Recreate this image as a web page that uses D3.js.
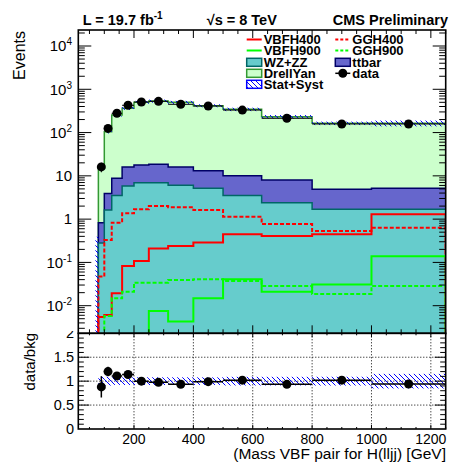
<!DOCTYPE html>
<html>
<head>
<meta charset="utf-8">
<script src="https://cdnjs.cloudflare.com/ajax/libs/d3/7.8.5/d3.min.js"></script>
<style>
body { margin: 0; background: #fff; }
text { font-family: "Liberation Sans", Arial, Helvetica, sans-serif; fill: #000; }
</style>
</head>
<body>
<svg id="chart" width="450" height="462"></svg>
<script>
// bin edges (GeV), 13 bins
var binEdges = [70, 80, 100, 125, 160, 200, 250, 315, 400, 500, 630, 800, 1000, 1250];

// backgrounds (stacked: WZ+ZZ, ttbar, DrellYan)
var wzzz     = [0, 0.28, 1.63, 3.5, 5.8, 6.9, 6.9, 6.1, 5.15, 3.5, 2.4, 1.69, 1.69];
var ttbar    = [0, 0.54, 2.27, 5.3, 10.2, 10.8, 11.6, 9.9, 8.05, 6.6, 5.6, 3.21, 3.46];
var drellyan = [0, 14.1, 101, 246, 347, 482, 516, 484, 404, 334, 225, 159, 159];
var bkgErr   = [0.39, 1.5, 9.5, 20, 29, 40, 43, 40, 33, 31, 21, 15, 25];

// signals
var vbfh400 = [0, 0.0055, 0.0061, 0.0193, 0.083, 0.108, 0.21, 0.24, 0.29, 0.45, 0.41, 0.45, 1.29];
var ggh400  = [0, 0.047, 0.33, 0.83, 1.36, 1.69, 2.0, 1.88, 1.63, 1.14, 0.77, 0.53, 0.63];
var vbfh900 = [0, 0, 0, 0, 0, 0, 0.0075, 0.0043, 0.0148, 0.041, 0.021, 0.031, 0.138];
var ggh900  = [0, 0, 0.0058, 0.0148, 0.021, 0.034, 0.034, 0.039, 0.041, 0.037, 0.0285, 0.0186, 0.0285];

// data
var dataVals = [0, 16.1, 125, 279, 427, 508, 527, 450, 411, 331, 214, 158, 158];
var dataErr  = [0, 4, 11, 17, 21, 23, 23, 21, 20, 18, 15, 13, 13];
var ratioVals = [null, 0.88, 1.2, 1.11, 1.14, 1.0, 0.975, 0.934, 0.99, 1.02, 0.934, 1.02, 0.94];
var ratioErr  = [null, 0.22, 0.1, 0.07, 0.06, 0.045, 0.045, 0.045, 0.05, 0.055, 0.065, 0.08, 0.08];

// tick labels
var xTickLabels = [200, 400, 600, 800, 1000, 1200];
var yExponents = [-2, -1, 0, 1, 2, 3, 4];
var ratioTickLabels = [0, 0.5, 1, 1.5, 2];

var svg = d3.select("#chart");
var fr = { left: 78.3, right: 445.7, top: 30, mid: 333.3, bottom: 429 };

var x = d3.scaleLinear().domain([12.4, 1250]).range([fr.left, fr.right]);
var y = d3.scaleLog().domain([Math.pow(10, -2.638), Math.pow(10, 4.37)]).range([fr.mid, fr.top]);
var yr = d3.scaleLinear().domain([0, 2]).range([fr.bottom, fr.mid]);

var defs = svg.append("defs");
defs.append("clipPath").attr("id", "clipTop").append("rect")
    .attr("x", fr.left).attr("y", fr.top).attr("width", fr.right - fr.left).attr("height", fr.mid - fr.top);
defs.append("clipPath").attr("id", "clipBot").append("rect")
    .attr("x", fr.left).attr("y", fr.mid).attr("width", fr.right - fr.left).attr("height", fr.bottom - fr.mid);
defs.append("clipPath").attr("id", "clipLbl").append("rect")
    .attr("x", 0).attr("y", 331).attr("width", 78).attr("height", 131);
var pat = defs.append("pattern").attr("id", "hatch").attr("patternUnits", "userSpaceOnUse")
    .attr("width", 5).attr("height", 5);
pat.append("path").attr("d", "M0,0L5,5M-1,4L1,6M4,-1L6,1")
    .attr("stroke", "#0000ff").attr("stroke-width", 1);

var nb = binEdges.length - 1;
var floorVal = 1e-5;

function sumArr() {
    var args = arguments, out = [];
    for (var i = 0; i < nb; i++) {
        var s = 0;
        for (var j = 0; j < args.length; j++) s += args[j][i];
        out.push(s);
    }
    return out;
}

// step outline of a histogram, down to zero at both ends
function stepPath(vals, close) {
    var yb = y(floorVal);
    var p = "M" + x(binEdges[0]) + "," + yb;
    for (var i = 0; i < nb; i++) {
        var v = y(Math.max(vals[i], floorVal));
        p += "L" + x(binEdges[i]) + "," + v + "L" + x(binEdges[i + 1]) + "," + v;
    }
    p += "L" + x(binEdges[nb]) + "," + yb;
    if (close) p += "Z";
    return p;
}

var total = sumArr(wzzz, ttbar, drellyan);
var ttTop = sumArr(wzzz, ttbar);

var topG = svg.append("g").attr("clip-path", "url(#clipTop)");

// stack
topG.append("path").attr("d", stepPath(total, true))
    .attr("fill", "#ccffcc").attr("stroke", "#339933").attr("stroke-width", 1.5);
topG.append("path").attr("d", stepPath(ttTop, true))
    .attr("fill", "#6666cc").attr("stroke", "#000066").attr("stroke-width", 1.5);
topG.append("path").attr("d", stepPath(wzzz, true))
    .attr("fill", "#66cccc").attr("stroke", "#006666").attr("stroke-width", 1.5);

// signals
var signals = [
    { v: vbfh400, c: "#ff0000", d: null },
    { v: ggh400, c: "#ff0000", d: "4,2" },
    { v: vbfh900, c: "#00ff00", d: null },
    { v: ggh900, c: "#00ff00", d: "4,2" }
];
signals.forEach(function (s) {
    topG.append("path").attr("d", stepPath(s.v, false))
        .attr("fill", "none").attr("stroke", s.c).attr("stroke-width", 2)
        .attr("stroke-dasharray", s.d);
});

// stat+syst band
for (var i = 0; i < nb; i++) {
    var hi = total[i] + bkgErr[i];
    var lo = Math.max(total[i] - bkgErr[i], floorVal);
    topG.append("rect")
        .attr("x", x(binEdges[i])).attr("width", x(binEdges[i + 1]) - x(binEdges[i]))
        .attr("y", y(hi)).attr("height", y(lo) - y(hi))
        .attr("fill", "url(#hatch)");
}

// data points
var dg = topG.append("g");
for (var i = 0; i < nb; i++) {
    if (!(dataVals[i] > 0)) continue;
    var xc = x((binEdges[i] + binEdges[i + 1]) / 2);
    dg.append("line").attr("x1", x(binEdges[i])).attr("x2", x(binEdges[i + 1]))
        .attr("y1", y(dataVals[i])).attr("y2", y(dataVals[i])).attr("stroke", "#000").attr("stroke-width", 1);
    dg.append("line").attr("x1", xc).attr("x2", xc)
        .attr("y1", y(dataVals[i] + dataErr[i])).attr("y2", y(dataVals[i] - dataErr[i]))
        .attr("stroke", "#000").attr("stroke-width", 1);
    dg.append("circle").attr("cx", xc).attr("cy", y(dataVals[i])).attr("r", 4.5).attr("fill", "#000");
}

// ratio pad
var bot = svg.append("g").attr("clip-path", "url(#clipBot)");
// grid
xTickLabels.forEach(function (t) {
    bot.append("line").attr("x1", x(t)).attr("x2", x(t)).attr("y1", fr.mid).attr("y2", fr.bottom)
        .attr("stroke", "#000").attr("stroke-width", 1).attr("stroke-dasharray", "1,2");
});
[0.5, 1, 1.5].forEach(function (t) {
    bot.append("line").attr("x1", fr.left).attr("x2", fr.right).attr("y1", yr(t)).attr("y2", yr(t))
        .attr("stroke", "#000").attr("stroke-width", 1).attr("stroke-dasharray", "1,2");
});
for (var i = 0; i < nb; i++) {
    if (!(total[i] > 0)) continue;
    var rel = bkgErr[i] / total[i];
    bot.append("rect")
        .attr("x", x(binEdges[i])).attr("width", x(binEdges[i + 1]) - x(binEdges[i]))
        .attr("y", yr(1 + rel)).attr("height", yr(1 - rel) - yr(1 + rel))
        .attr("fill", "url(#hatch)");
}
for (var i = 0; i < nb; i++) {
    if (ratioVals[i] == null) continue;
    var xc = x((binEdges[i] + binEdges[i + 1]) / 2);
    bot.append("line").attr("x1", x(binEdges[i])).attr("x2", x(binEdges[i + 1]))
        .attr("y1", yr(ratioVals[i])).attr("y2", yr(ratioVals[i])).attr("stroke", "#000").attr("stroke-width", 1.5);
    bot.append("line").attr("x1", xc).attr("x2", xc)
        .attr("y1", yr(ratioVals[i] + ratioErr[i])).attr("y2", yr(ratioVals[i] - ratioErr[i]))
        .attr("stroke", "#000").attr("stroke-width", 1.5);
    bot.append("circle").attr("cx", xc).attr("cy", yr(ratioVals[i])).attr("r", 4.5).attr("fill", "#000");
}

// ticks
var tg = svg.append("g").attr("stroke", "#000").attr("stroke-width", 1);
function hTick(yy, len) {
    tg.append("line").attr("x1", fr.left).attr("x2", fr.left + len).attr("y1", yy).attr("y2", yy);
    tg.append("line").attr("x1", fr.right).attr("x2", fr.right - len).attr("y1", yy).attr("y2", yy);
}
function vTick(xx, y0, y1, len) {
    tg.append("line").attr("x1", xx).attr("x2", xx).attr("y1", y0).attr("y2", y0 + len);
    tg.append("line").attr("x1", xx).attr("x2", xx).attr("y1", y1).attr("y2", y1 - len);
}
// upper y (log)
for (var k = -3; k <= 4; k++) {
    for (var m = 1; m <= 9; m++) {
        var v = m * Math.pow(10, k);
        if (v < y.domain()[0] || v > y.domain()[1]) continue;
        hTick(y(v), m == 1 ? 13 : 6.5);
    }
}
// x ticks on both pads
for (var g = 50; g <= 1250; g += 50) {
    var major = g % 200 == 0;
    vTick(x(g), fr.top, fr.mid, major ? 8 : 4);
    vTick(x(g), fr.mid, fr.bottom, major ? 4 : 2);
}
// ratio y
for (var r = 1; r < 20; r++) {
    hTick(yr(r / 10), r % 5 == 0 ? 11 : 5.5);
}

// frames
svg.append("rect").attr("x", fr.left).attr("y", fr.top).attr("width", fr.right - fr.left).attr("height", fr.mid - fr.top)
    .attr("fill", "none").attr("stroke", "#000").attr("stroke-width", 1.6);
svg.append("rect").attr("x", fr.left).attr("y", fr.mid).attr("width", fr.right - fr.left).attr("height", fr.bottom - fr.mid)
    .attr("fill", "none").attr("stroke", "#000").attr("stroke-width", 1.6);

// tick labels
yExponents.forEach(function (e) {
    var t = svg.append("text").attr("x", 72).attr("y", y(Math.pow(10, e))).attr("dy", "0.35em")
        .attr("text-anchor", "end").style("font-size", "15px");
    if (e == 0) t.text("1");
    else if (e == 1) t.text("10");
    else {
        t.append("tspan").text("10");
        t.append("tspan").attr("dy", "-6").style("font-size", "10px").text(e);
    }
});
ratioTickLabels.forEach(function (t) {
    svg.append("text").attr("x", 74).attr("y", yr(t)).attr("dy", "0.35em")
        .attr("text-anchor", "end").style("font-size", "14.5px")
        .attr("clip-path", "url(#clipLbl)").text(t);
});
xTickLabels.forEach(function (t) {
    svg.append("text").attr("x", x(t)).attr("y", 443.5).attr("text-anchor", "middle")
        .style("font-size", "14px").text(t);
});

// axis titles
svg.append("text").attr("transform", "translate(25,31) rotate(-90)").attr("text-anchor", "end")
    .style("font-size", "16px").text("Events");
svg.append("text").attr("transform", "translate(35,333) rotate(-90)").attr("text-anchor", "end")
    .style("font-size", "15px").text("data/bkg");
svg.append("text").attr("x", 446).attr("y", 458.5).attr("text-anchor", "end")
    .style("font-size", "15.5px").text("(Mass VBF pair for H(lljj) [GeV]");

// header
var lumi = svg.append("text").attr("x", 82.7).attr("y", 25).style("font-size", "14.5px").style("font-weight", "bold");
lumi.append("tspan").text("L = 19.7 fb");
lumi.append("tspan").attr("dy", -6).style("font-size", "10px").text("-1");
svg.append("text").attr("x", 206.7).attr("y", 25).style("font-size", "14.5px").style("font-weight", "bold")
    .text("\u221As = 8 TeV");
svg.append("text").attr("x", 448).attr("y", 25).attr("text-anchor", "end")
    .style("font-size", "14.5px").style("font-weight", "bold").text("CMS Preliminary");

// legend
var lg = svg.append("g");
var col1 = 246.7, col2 = 335.3, rowY = [39.5, 50.5, 62.3, 73.3, 84.3];
function legLine(cx, cy, color, dash) {
    lg.append("line").attr("x1", cx).attr("x2", cx + 15).attr("y1", cy).attr("y2", cy)
        .attr("stroke", color).attr("stroke-width", 2).attr("stroke-dasharray", dash);
}
function legBox(cx, cy, fill, stroke) {
    lg.append("rect").attr("x", cx).attr("y", cy - 4).attr("width", 15).attr("height", 8)
        .attr("fill", fill).attr("stroke", stroke).attr("stroke-width", 1.5);
}
function legText(cx, cy, s) {
    lg.append("text").attr("x", cx + 17).attr("y", cy).attr("dy", "0.36em")
        .style("font-size", "13px").style("font-weight", "bold").text(s);
}
legLine(col1, rowY[0], "#ff0000", null); legText(col1, rowY[0], "VBFH400");
legLine(col2, rowY[0], "#ff0000", "3,2"); legText(col2, rowY[0], "GGH400");
legLine(col1, rowY[1], "#00ff00", null); legText(col1, rowY[1], "VBFH900");
legLine(col2, rowY[1], "#00ff00", "3,2"); legText(col2, rowY[1], "GGH900");
legBox(col1, rowY[2], "#66cccc", "#006666"); legText(col1, rowY[2], "WZ+ZZ");
legBox(col2, rowY[2], "#6666cc", "#000066"); legText(col2, rowY[2], "ttbar");
legBox(col1, rowY[3], "#ccffcc", "#339933"); legText(col1, rowY[3], "DrellYan");
lg.append("line").attr("x1", col2).attr("x2", col2 + 15).attr("y1", rowY[3]).attr("y2", rowY[3])
    .attr("stroke", "#000").attr("stroke-width", 1.5);
lg.append("circle").attr("cx", col2 + 7.5).attr("cy", rowY[3]).attr("r", 4.5).attr("fill", "#000");
legText(col2, rowY[3], "data");
legBox(col1, rowY[4], "url(#hatch)", "#0000ff"); legText(col1, rowY[4], "Stat+Syst");
</script>
</body>
</html>
